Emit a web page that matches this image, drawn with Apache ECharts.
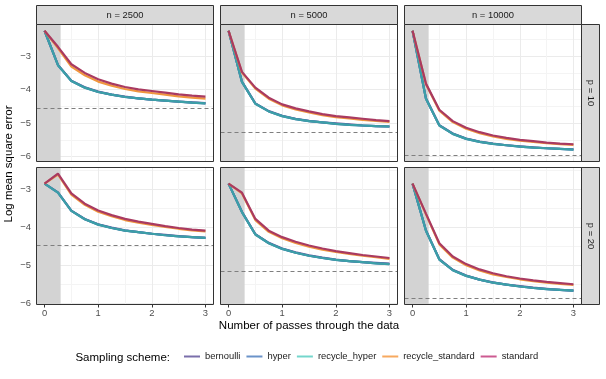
<!DOCTYPE html>
<html>
<head>
<meta charset="utf-8">
<script src="https://cdn.jsdelivr.net/npm/echarts@6/dist/echarts.min.js"></script>
<style>
html, body { margin: 0; padding: 0; background: #fff; }
#main { width: 606px; height: 379px; }
</style>
</head>
<body>
<div id="main"></div>
<script>
// number of passes through the data (x of every point)
var passes = [0, 0.25, 0.5, 0.75, 1, 1.25, 1.5, 1.75, 2, 2.25, 2.5, 2.75, 3];

// facet labels; panel order is p=10 (n=2500, 5000, 10000) then p=20 (same n)
var nLabels = ['n = 2500', 'n = 5000', 'n = 10000'];
var pLabels = ['p = 10', 'p = 20'];
var schemes = ['bernoulli', 'hyper', 'recycle_hyper', 'recycle_standard', 'standard'];

// log mean square error, one row per panel
var bernoulli = [
    [-2.24, -3.26, -3.73, -3.93, -4.06, -4.15, -4.21, -4.26, -4.30, -4.33, -4.36, -4.38, -4.40],
    [-2.24, -3.76, -4.41, -4.64, -4.78, -4.87, -4.93, -4.98, -5.01, -5.04, -5.07, -5.09, -5.10],
    [-2.24, -4.26, -5.06, -5.31, -5.46, -5.55, -5.61, -5.66, -5.69, -5.72, -5.75, -5.77, -5.78],
    [-2.85, -3.08, -3.56, -3.78, -3.92, -4.01, -4.08, -4.13, -4.17, -4.20, -4.23, -4.26, -4.28],
    [-2.85, -3.59, -4.18, -4.41, -4.56, -4.66, -4.74, -4.80, -4.85, -4.89, -4.92, -4.94, -4.96],
    [-2.85, -4.08, -4.84, -5.12, -5.27, -5.38, -5.45, -5.51, -5.55, -5.59, -5.62, -5.65, -5.67]
];
var hyper = [
    [-2.24, -3.27, -3.74, -3.94, -4.07, -4.15, -4.22, -4.26, -4.30, -4.33, -4.36, -4.39, -4.41],
    [-2.24, -3.77, -4.42, -4.65, -4.79, -4.88, -4.94, -4.98, -5.02, -5.05, -5.07, -5.09, -5.10],
    [-2.24, -4.27, -5.07, -5.32, -5.47, -5.56, -5.62, -5.66, -5.70, -5.73, -5.75, -5.77, -5.79],
    [-2.85, -3.09, -3.57, -3.79, -3.93, -4.02, -4.09, -4.13, -4.17, -4.21, -4.24, -4.26, -4.28],
    [-2.85, -3.60, -4.19, -4.42, -4.57, -4.67, -4.75, -4.81, -4.86, -4.89, -4.92, -4.95, -4.97],
    [-2.85, -4.09, -4.85, -5.13, -5.28, -5.38, -5.46, -5.51, -5.56, -5.60, -5.63, -5.65, -5.67]
];
var recycleHyper = [
    [-2.24, -3.27, -3.74, -3.94, -4.07, -4.15, -4.22, -4.26, -4.30, -4.33, -4.36, -4.39, -4.41],
    [-2.24, -3.77, -4.42, -4.65, -4.79, -4.88, -4.94, -4.98, -5.02, -5.05, -5.07, -5.09, -5.10],
    [-2.24, -4.27, -5.07, -5.32, -5.47, -5.56, -5.62, -5.66, -5.70, -5.73, -5.75, -5.77, -5.79],
    [-2.85, -3.09, -3.57, -3.79, -3.93, -4.02, -4.09, -4.13, -4.17, -4.21, -4.24, -4.26, -4.28],
    [-2.85, -3.60, -4.19, -4.42, -4.57, -4.67, -4.75, -4.81, -4.86, -4.89, -4.92, -4.95, -4.97],
    [-2.85, -4.09, -4.85, -5.13, -5.28, -5.38, -5.46, -5.51, -5.56, -5.60, -5.63, -5.65, -5.67]
];
var recycleStandard = [
    [-2.24, -2.76, -3.31, -3.57, -3.76, -3.88, -3.98, -4.05, -4.10, -4.15, -4.20, -4.24, -4.27],
    [-2.24, -3.49, -3.97, -4.27, -4.47, -4.59, -4.68, -4.76, -4.82, -4.86, -4.90, -4.93, -4.96],
    [-2.24, -3.84, -4.63, -4.97, -5.17, -5.30, -5.40, -5.47, -5.52, -5.56, -5.60, -5.63, -5.65],
    [-2.85, -2.61, -3.14, -3.41, -3.59, -3.71, -3.81, -3.88, -3.94, -3.99, -4.04, -4.08, -4.11],
    [-2.85, -3.11, -3.81, -4.12, -4.29, -4.41, -4.51, -4.59, -4.65, -4.70, -4.75, -4.79, -4.83],
    [-2.85, -3.66, -4.45, -4.80, -5.00, -5.14, -5.24, -5.31, -5.37, -5.42, -5.46, -5.49, -5.52]
];
var standard = [
    [-2.24, -2.72, -3.24, -3.50, -3.69, -3.82, -3.92, -3.99, -4.04, -4.09, -4.14, -4.18, -4.21],
    [-2.24, -3.47, -3.94, -4.24, -4.44, -4.56, -4.65, -4.73, -4.79, -4.83, -4.87, -4.91, -4.94],
    [-2.24, -3.82, -4.60, -4.94, -5.14, -5.27, -5.37, -5.44, -5.50, -5.54, -5.58, -5.61, -5.63],
    [-2.85, -2.59, -3.11, -3.38, -3.56, -3.68, -3.78, -3.85, -3.91, -3.97, -4.02, -4.06, -4.09],
    [-2.85, -3.09, -3.78, -4.09, -4.26, -4.38, -4.48, -4.56, -4.63, -4.68, -4.73, -4.77, -4.81],
    [-2.85, -3.64, -4.42, -4.77, -4.97, -5.11, -5.21, -5.29, -5.35, -5.40, -5.44, -5.47, -5.50]
];
// dashed reference level per panel
var dashedLevel = [-4.57, -5.27, -5.96, -4.47, -5.17, -5.87];
// end of the shaded warm-up band
var shadeEnd = 0.3;

var xMajor = [0, 1, 2, 3];
var xMinor = [0.5, 1.5, 2.5];
var yMajor = [-6, -5, -4, -3];
var yMinor = [-6.5, -5.5, -4.5, -3.5, -2.5];

var schemeData = [bernoulli, hyper, recycleHyper, recycleStandard, standard];
var lineColors = ['#62569c', '#4677b5', '#3c9fa7', '#f0963f', '#a93a61'];
var keyColors = ['#7a6fab', '#6b93c9', '#74d6cc', '#f7a95f', '#cc5a91'];

var font = '"Liberation Sans", Arial, sans-serif';
var colLeft = [36.5, 220.5, 404.5];
var rowTop = [24.5, 167.5];
var panelW = 177;
var panelH = 137;

function minusLabel(v) {
    return v < 0 ? '\u2212' + Math.abs(v) : String(v);
}

// ggplot style range: data extent plus 5% on both sides
function expandRange(values) {
    var lo = Math.min.apply(null, values), hi = Math.max.apply(null, values);
    var pad = (hi - lo) * 0.05;
    return [lo - pad, hi + pad];
}

var xRange = expandRange(passes);
var yRanges = [0, 1].map(function (r) {
    var vals = [];
    for (var c = 0; c < 3; c++) {
        var k = r * 3 + c;
        schemeData.forEach(function (s) { vals = vals.concat(s[k]); });
        vals.push(dashedLevel[k]);
    }
    return expandRange(vals);
});

var grids = [], xAxes = [], yAxes = [], series = [], graphics = [];

for (var k = 0; k < 6; k++) {
    var r = Math.floor(k / 3), c = k % 3;
    grids.push({
        left: colLeft[c], top: rowTop[r], width: panelW, height: panelH,
        show: true, backgroundColor: 'transparent',
        borderColor: '#333333', borderWidth: 1, z: 10,
        outerBoundsMode: 'none'
    });
    // major axis: labels, ticks, major grid
    xAxes.push({
        gridIndex: k, type: 'value', min: xRange[0], max: xRange[1], position: 'bottom',
        axisLine: { show: false },
        axisTick: { show: r === 1, length: 3, lineStyle: { color: '#333333' }, customValues: xMajor },
        axisLabel: { show: r === 1, customValues: xMajor, color: '#4d4d4d', fontSize: 9.4, fontFamily: font, margin: 4 },
        splitLine: { show: true, lineStyle: { color: '#ebebeb', width: 1 } }
    });
    // minor axis: only the lighter grid lines
    xAxes.push({
        gridIndex: k, type: 'value', min: xRange[0], max: xRange[1], position: 'top',
        axisLine: { show: false },
        axisTick: { show: false, customValues: xMinor },
        axisLabel: { show: false },
        splitLine: { show: true, lineStyle: { color: '#f4f4f4', width: 1 } }
    });
    yAxes.push({
        gridIndex: k, type: 'value', min: yRanges[r][0], max: yRanges[r][1], position: 'left',
        axisLine: { show: false },
        axisTick: { show: c === 0, length: 3, lineStyle: { color: '#333333' }, customValues: yMajor },
        axisLabel: { show: c === 0, customValues: yMajor, formatter: minusLabel, color: '#4d4d4d', fontSize: 9.4, fontFamily: font, margin: 5.5 },
        splitLine: { show: true, lineStyle: { color: '#ebebeb', width: 1 } }
    });
    yAxes.push({
        gridIndex: k, type: 'value', min: yRanges[r][0], max: yRanges[r][1], position: 'right',
        axisLine: { show: false },
        axisTick: { show: false, customValues: yMinor },
        axisLabel: { show: false },
        splitLine: { show: true, lineStyle: { color: '#f4f4f4', width: 1 } }
    });

    for (var s = 0; s < schemes.length; s++) {
        var vals = schemeData[s][k];
        var item = {
            name: schemes[s], type: 'line',
            xAxisIndex: 2 * k, yAxisIndex: 2 * k,
            data: passes.map(function (x, i) { return [x, vals[i]]; }),
            symbol: 'none', showSymbol: false, silent: true, animation: false,
            z: 2 + s,
            itemStyle: { color: keyColors[s] },
            lineStyle: { color: lineColors[s], width: 2.2 }
        };
        if (s === 0) {
            item.markArea = {
                silent: true,
                label: { show: false },
                itemStyle: { color: '#d3d3d3', opacity: 1, borderWidth: 0 },
                data: [[{ xAxis: xRange[0] }, { xAxis: shadeEnd }]]
            };
            item.markLine = {
                silent: true, symbol: ['none', 'none'], animation: false,
                label: { show: false },
                lineStyle: { color: '#7f7f7f', width: 1, type: [4, 3] },
                data: [{ yAxis: dashedLevel[k] }]
            };
        }
        series.push(item);
    }
}

// facet strips
for (var c2 = 0; c2 < 3; c2++) {
    graphics.push({
        type: 'rect', shape: { x: colLeft[c2], y: 5.5, width: panelW, height: 19 },
        style: { fill: '#d9d9d9', stroke: '#333333', lineWidth: 1 }
    });
    graphics.push({
        type: 'text', x: colLeft[c2] + panelW / 2, y: 15,
        style: { text: nLabels[c2], textAlign: 'center', textVerticalAlign: 'middle', fontSize: 9.4, fontFamily: font, fill: '#1a1a1a' }
    });
}
for (var r2 = 0; r2 < 2; r2++) {
    graphics.push({
        type: 'rect', shape: { x: 581.5, y: rowTop[r2], width: 18, height: panelH },
        style: { fill: '#d9d9d9', stroke: '#333333', lineWidth: 1 }
    });
    graphics.push({
        type: 'text', x: 590.5, y: rowTop[r2] + panelH / 2, rotation: -Math.PI / 2,
        style: { text: pLabels[r2], textAlign: 'center', textVerticalAlign: 'middle', fontSize: 9.4, fontFamily: font, fill: '#1a1a1a' }
    });
}
// axis titles and legend title
graphics.push({
    type: 'text', x: 9, y: 164, rotation: Math.PI / 2,
    style: { text: 'Log mean square error', textAlign: 'center', textVerticalAlign: 'middle', fontSize: 11.5, fontFamily: font, fill: '#000' }
});
graphics.push({
    type: 'text', x: 309, y: 326,
    style: { text: 'Number of passes through the data', textAlign: 'center', textVerticalAlign: 'middle', fontSize: 11.5, fontFamily: font, fill: '#000' }
});
graphics.push({
    type: 'text', x: 170, y: 358,
    style: { text: 'Sampling scheme:', textAlign: 'right', textVerticalAlign: 'middle', fontSize: 11.5, fontFamily: font, fill: '#000' }
});

var myChart = echarts.init(document.getElementById('main'), null, { renderer: 'canvas' });
var option = {
    animation: false,
    backgroundColor: '#ffffff',
    textStyle: { fontFamily: font },
    legend: {
        data: schemes.map(function (n, i) { return { name: n, itemStyle: { color: keyColors[i] } }; }),
        left: 184, top: 352, icon: 'rect', itemWidth: 16, itemHeight: 2, itemGap: 6, padding: 0,
        selectedMode: false,
        textStyle: { fontSize: 9.4, color: '#1a1a1a', fontFamily: font }
    },
    grid: grids,
    xAxis: xAxes,
    yAxis: yAxes,
    series: series,
    graphic: graphics
};
myChart.setOption(option);
</script>
</body>
</html>
